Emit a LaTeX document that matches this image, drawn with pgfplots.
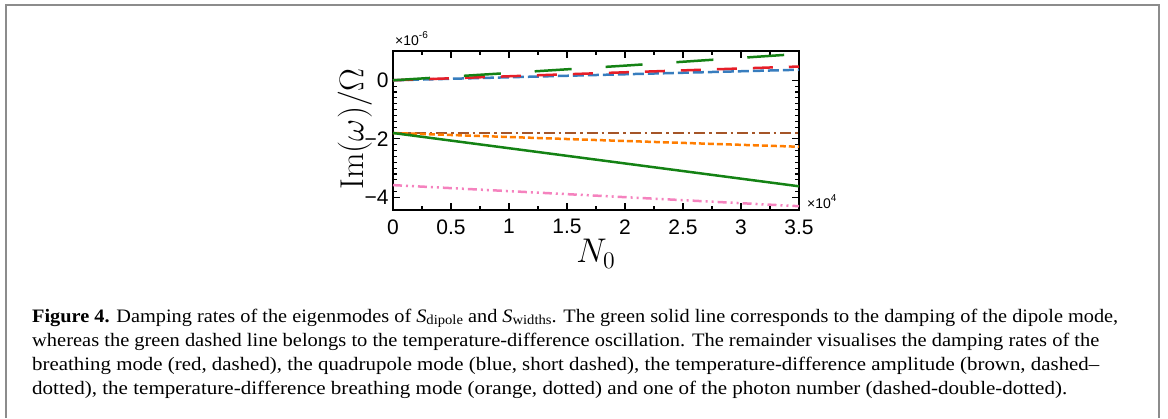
\documentclass[border=0pt]{standalone}
\usepackage{fontspec}
\usepackage{pgfplots}
\pgfplotsset{compat=1.18}
\newfontfamily\ticksf{Liberation Sans}
\newfontfamily\capfont{Liberation Serif}

\definecolor{cgreen}{RGB}{20,130,20}
\definecolor{cred}{RGB}{230,30,40}
\definecolor{cblue}{RGB}{55,125,190}
\definecolor{cbrown}{RGB}{165,85,40}
\definecolor{corange}{RGB}{255,125,0}
\definecolor{cpink}{RGB}{245,130,190}

\newcommand{\sub}[1]{\raisebox{-0.3ex}{\scalebox{0.72}{#1}}}
\newcommand{\capline}[2]{\resizebox{#1}{\height}{\capfont\fontsize{19}{19}\selectfont #2}}

\begin{document}
\begin{tikzpicture}[x=1pt,y=1pt]
  \useasboundingbox (0,0) rectangle (1168,-418);
  % frame round the figure
  \draw[black!45, line width=2pt] (6,-418) -- (6,-5) -- (1159,-5) -- (1159,-418);

  \begin{axis}[
      at={(393pt,-210pt)}, anchor=south west,
      scale only axis, width=406pt, height=159pt,
      xmin=0, xmax=3.5, ymin=-4.43, ymax=1.0,
      xtick={0,0.5,...,3.5},
      ytick={-4,-2,0},
      yticklabels={−4,−2,0},
      minor x tick num=1,
      minor y tick num=9,
      tick align=inside,
      major tick length=7pt, minor tick length=4pt,
      axis line style={line width=1.4pt},
      every tick/.style={black, line width=1.2pt},
      /pgf/number format/assume math mode=true,
      ticklabel style={font=\ticksf\fontsize{21}{21}\selectfont},
      xticklabel style={yshift=-6pt},
      yticklabel style={xshift=-1pt},
      ylabel={\scalebox{1.65}{$\mathrm{Im}(\omega)/\Omega$}},
      ylabel style={font=\fontsize{20}{20}\selectfont, at={(axis description cs:-0.094,0.51)}, anchor=center},
      xlabel={\scalebox{1.65}{$N_0$}},
      xlabel style={font=\fontsize{20}{20}\selectfont, at={(axis description cs:0.5,-0.333)}, anchor=base},
      clip=false,
    ]
    % quadrupole mode
    \addplot[cblue, line width=2.5pt, dash pattern=on 11pt off 4pt]
      coordinates {(0,0) (1.75,0.18) (3.5,0.36)};
    % breathing mode
    \addplot[cred, line width=2.5pt, dash pattern=on 20pt off 16pt]
      coordinates {(0,0) (1.75,0.24) (3.5,0.47)};
    % temperature-difference oscillation
    \addplot[cgreen, line width=2.5pt, dash pattern=on 37pt off 34pt]
      coordinates {(0,0) (2.0,0.5) (3.5,0.9)};
    % temperature-difference amplitude
    \addplot[cbrown, line width=2.5pt, dash pattern=on 11pt off 4pt on 2.5pt off 4pt]
      coordinates {(0,-1.8) (3.5,-1.8)};
    % temperature-difference breathing mode
    \addplot[corange, line width=2.5pt, dash pattern=on 6pt off 3pt]
      coordinates {(0,-1.8) (1.75,-2.04) (3.5,-2.27)};
    % dipole mode
    \addplot[cgreen, line width=2.5pt]
      coordinates {(0,-1.8) (2.0,-2.84) (3.5,-3.62)};
    % photon number
    \addplot[cpink, line width=2.5pt, dash pattern=on 9pt off 4pt on 2pt off 4pt on 2pt off 4pt]
      coordinates {(0,-3.58) (1.75,-3.94) (3.5,-4.3)};
  \end{axis}

  \node[anchor=base west, inner sep=0pt, font=\ticksf\fontsize{14}{14}\selectfont]
    at (395,-45) {×10\raisebox{0.9ex}{\fontsize{10}{10}\selectfont -6}};
  \node[anchor=base west, inner sep=0pt, font=\ticksf\fontsize{14}{14}\selectfont]
    at (807,-208) {×10\raisebox{0.9ex}{\fontsize{10}{10}\selectfont 4}};

  % caption
  \node[anchor=base west, inner sep=0pt] at (32,-322)
    {\capline{1086pt}{\textbf{Figure 4.} Damping rates of the eigenmodes of \textit{S}\sub{dipole} and \textit{S}\sub{widths}. The green solid line corresponds to the damping of the dipole mode,}};
  \node[anchor=base west, inner sep=0pt] at (32,-346)
    {\capline{1067pt}{whereas the green dashed line belongs to the temperature-difference oscillation. The remainder visualises the damping rates of the}};
  \node[anchor=base west, inner sep=0pt] at (32,-370)
    {\capline{1067pt}{breathing mode (red, dashed), the quadrupole mode (blue, short dashed), the temperature-difference amplitude (brown, dashed–}};
  \node[anchor=base west, inner sep=0pt] at (32,-394)
    {\capline{1035pt}{dotted), the temperature-difference breathing mode (orange, dotted) and one of the photon number (dashed-double-dotted).}};
\end{tikzpicture}
\end{document}
